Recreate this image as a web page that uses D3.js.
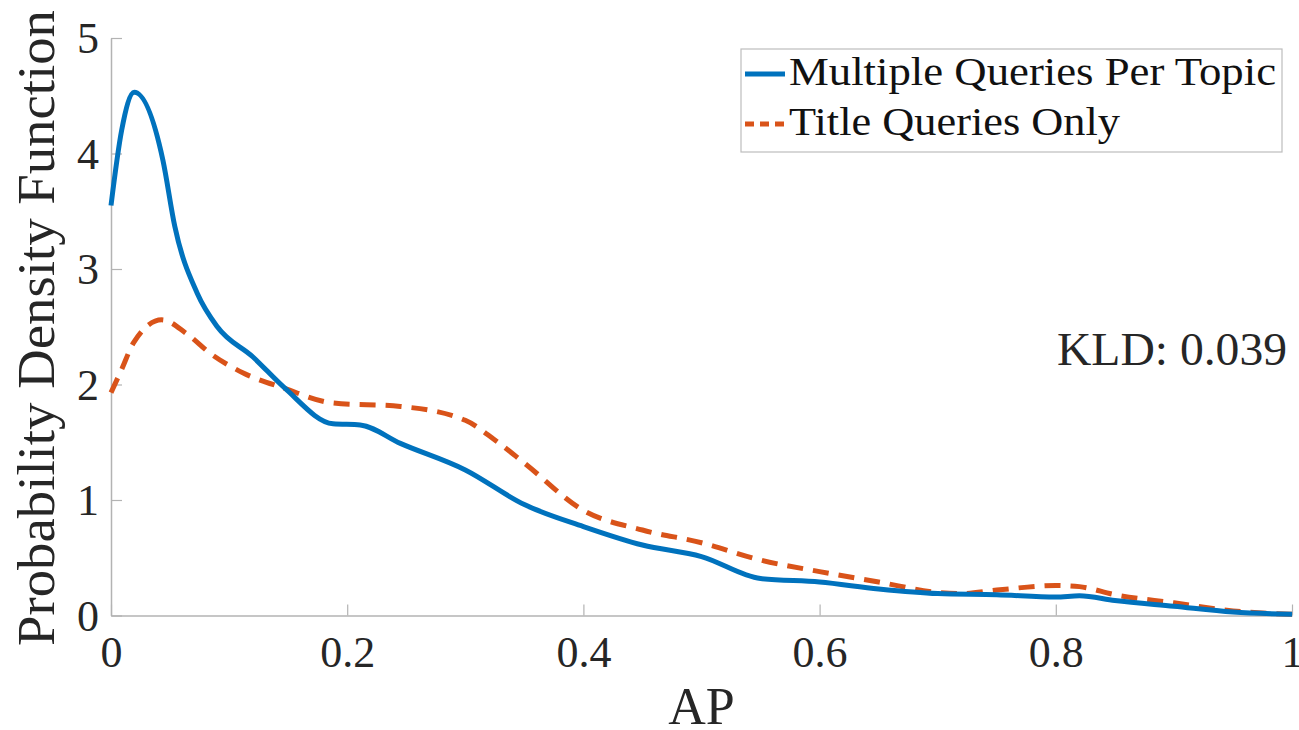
<!DOCTYPE html>
<html>
<head>
<meta charset="utf-8">
<script src="https://cdn.jsdelivr.net/npm/d3@7"></script>
<style>
  body { margin: 0; background: #fff; }
  text { font-family: "Liberation Serif", "DejaVu Serif", serif; fill: #262626; }
</style>
</head>
<body>
<svg></svg>
<script>
// density curves
var apX = [0, 0.009, 0.0197, 0.044, 0.054, 0.073, 0.09, 0.12, 0.147, 0.188, 0.211, 0.245, 0.3, 0.35, 0.4, 0.45, 0.5, 0.55, 0.6, 0.65, 0.7, 0.75, 0.8, 0.82, 0.85, 0.9, 0.95, 1];
var multiple = [3.55, 4.2, 4.53, 3.94, 3.37, 2.79, 2.5, 2.24, 1.97, 1.66, 1.65, 1.49, 1.26, 0.96, 0.77, 0.61, 0.51, 0.32, 0.29, 0.23, 0.19, 0.18, 0.16, 0.17, 0.13, 0.08, 0.03, 0.01];
var apX2 = [0, 0.009, 0.019, 0.043, 0.064, 0.084, 0.112, 0.146, 0.188, 0.245, 0.3, 0.325, 0.35, 0.4, 0.45, 0.5, 0.55, 0.6, 0.65, 0.7, 0.72, 0.75, 0.8, 0.82, 0.85, 0.9, 0.95, 1];
var titleOnly = [1.93, 2.13, 2.36, 2.56, 2.44, 2.27, 2.1, 1.97, 1.84, 1.81, 1.69, 1.52, 1.32, 0.91, 0.74, 0.63, 0.48, 0.38, 0.29, 0.2, 0.19, 0.22, 0.26, 0.25, 0.18, 0.11, 0.04, 0.01];
var xTicks = [0, 0.2, 0.4, 0.6, 0.8, 1];
var yTicks = [0, 1, 2, 3, 4, 5];
var legendNames = ["Multiple Queries Per Topic", "Title Queries Only"];

var width = 1299, height = 730;
var mLeft = 111, mRight = 1292, mTop = 38, mBottom = 615.5;

var svg = d3.select("svg").attr("width", width).attr("height", height);

var x = d3.scaleLinear().domain([0, 1]).range([mLeft, mRight]);
var y = d3.scaleLinear().domain([0, 5]).range([mBottom, mTop]);

var axisColor = "#b3b3b3";

// axes (ticks point inward like matlab)
var xAxis = svg.append("g").attr("transform", "translate(0," + mBottom + ")")
    .call(d3.axisBottom(x).tickValues(xTicks).tickSizeInner(-11).tickSizeOuter(0)
        .tickFormat(function(d) { return d === 0 || d === 1 ? d : d3.format(".1f")(d); }));
xAxis.select(".domain").attr("stroke", axisColor).attr("stroke-width", 1.5);
xAxis.selectAll(".tick line").attr("stroke", axisColor).attr("stroke-width", 1.2);
xAxis.selectAll(".tick text").attr("y", 51).attr("dy", 0).attr("font-size", 44)
    .attr("fill", "#262626").style("font-family", "Liberation Serif");

var yAxis = svg.append("g").attr("transform", "translate(" + mLeft + ",0)")
    .call(d3.axisLeft(y).tickValues(yTicks).tickSizeInner(-11).tickSizeOuter(0)
        .tickFormat(d3.format("d")));
yAxis.select(".domain").attr("stroke", axisColor).attr("stroke-width", 1.5);
yAxis.selectAll(".tick line").attr("stroke", axisColor).attr("stroke-width", 1.2);
yAxis.selectAll(".tick text").attr("x", -12).attr("dy", "0.34em").attr("font-size", 44)
    .attr("fill", "#262626").style("font-family", "Liberation Serif");

// lines
var line = d3.line()
    .x(function(d) { return x(d[0]); })
    .y(function(d) { return y(d[1]); })
    .curve(d3.curveMonotoneX);

svg.append("path")
    .datum(d3.zip(apX2, titleOnly))
    .attr("d", line)
    .attr("fill", "none")
    .attr("stroke", "#D95319")
    .attr("stroke-width", 5)
    .attr("stroke-dasharray", "16,10");

svg.append("path")
    .datum(d3.zip(apX, multiple))
    .attr("d", line)
    .attr("fill", "none")
    .attr("stroke", "#0072BD")
    .attr("stroke-width", 5);

// axis labels
svg.append("text")
    .attr("x", x(0.5)).attr("y", 724)
    .attr("text-anchor", "middle")
    .attr("font-size", 52)
    .text("AP");

svg.append("text")
    .attr("transform", "translate(54,328) rotate(-90)")
    .attr("text-anchor", "middle")
    .attr("font-size", 53)
    .attr("textLength", 636)
    .attr("lengthAdjust", "spacingAndGlyphs")
    .text("Probability Density Function");

// KLD note
svg.append("text")
    .attr("x", 1057).attr("y", 365)
    .attr("font-size", 47)
    .attr("textLength", 230)
    .attr("lengthAdjust", "spacingAndGlyphs")
    .text("KLD: 0.039");

// legend
var legend = svg.append("g");
legend.append("rect")
    .attr("x", 741).attr("y", 49).attr("width", 541).attr("height", 103)
    .attr("fill", "#fff").attr("stroke", "#bdbdbd").attr("stroke-width", 1.2);

var legendColors = ["#0072BD", "#D95319"];
var legendDash = [null, "9,6"];
var legendWidths = [487, 331];
legendNames.forEach(function(name, i) {
    var ly = 74 + i * 50;
    legend.append("line")
        .attr("x1", 745).attr("x2", 785).attr("y1", ly).attr("y2", ly)
        .attr("stroke", legendColors[i]).attr("stroke-width", 5)
        .attr("stroke-dasharray", legendDash[i]);
    legend.append("text")
        .attr("x", 789).attr("y", ly + 11)
        .attr("font-size", 40)
        .attr("textLength", legendWidths[i])
        .attr("lengthAdjust", "spacingAndGlyphs")
        .style("fill", "#111")
        .text(name);
});
</script>
</body>
</html>
